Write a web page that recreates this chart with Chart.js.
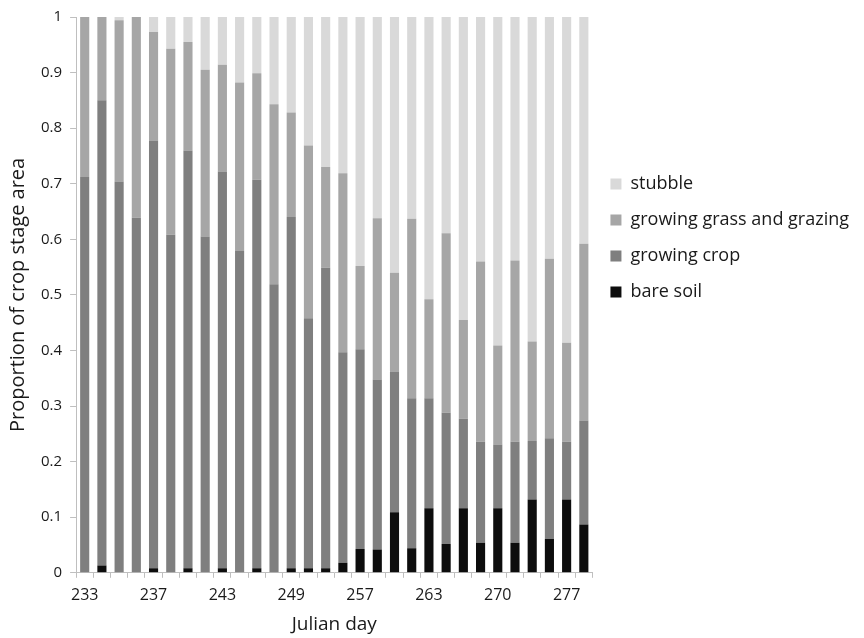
<!DOCTYPE html>
<html lang="en">
<head>
  <meta charset="UTF-8">
  <title>Crop stage proportions</title>
  <script src="https://cdn.jsdelivr.net/npm/chart.js@4"></script>
  <style>
      body { margin: 0; background: #ffffff; }
      #chart-container { width: 864px; height: 638px; }
  </style>
</head>
<body>
  <div id="chart-container">
      <canvas id="cropChart"></canvas>
  </div>

  <script>
      // Julian day labels (only every fourth bar is labelled on the axis)
      var dayLabels = [
        '233', '', '', '', '237', '', '', '', '243', '', '', '', '249', '', '', '',
        '257', '', '', '', '263', '', '', '', '270', '', '', '', '277', ''
      ];

      var bareSoil = [
        0, 0.013, 0, 0, 0.008, 0, 0.008, 0, 0.008, 0, 0.008, 0, 0.008, 0.008, 0.008,
        0.018, 0.043, 0.042, 0.109, 0.044, 0.116, 0.052, 0.116, 0.054, 0.116,
        0.054, 0.132, 0.061, 0.132, 0.087
      ];

      var growingCrop = [
        0.712, 0.837, 0.704, 0.639, 0.770, 0.608, 0.752, 0.605, 0.714, 0.579,
        0.699, 0.519, 0.632, 0.450, 0.541, 0.379, 0.359, 0.306, 0.253, 0.270,
        0.198, 0.236, 0.161, 0.182, 0.115, 0.182, 0.105, 0.181, 0.104, 0.187
      ];

      var grassGrazing = [
        0.288, 0.150, 0.290, 0.361, 0.195, 0.335, 0.195, 0.300, 0.192, 0.303,
        0.192, 0.324, 0.188, 0.311, 0.181, 0.322, 0.150, 0.290, 0.178, 0.323,
        0.178, 0.323, 0.178, 0.324, 0.178, 0.326, 0.179, 0.323, 0.178, 0.318
      ];

      var stubble = [
        0, 0, 0.006, 0, 0.027, 0.057, 0.045, 0.095, 0.086, 0.118,
        0.101, 0.157, 0.172, 0.231, 0.270, 0.281, 0.448, 0.362, 0.460, 0.363,
        0.508, 0.389, 0.545, 0.440, 0.591, 0.438, 0.584, 0.435, 0.586, 0.408
      ];

      var textColor = '#1a1a1a';
      var axisColor = '#bfbfbf';
      var font = "'Open Sans', 'Noto Sans', sans-serif";

      var bar = { barPercentage: 0.53, categoryPercentage: 1.0, borderWidth: 0 };

      var ctx = document.getElementById('cropChart').getContext('2d');
      var cropChart = new Chart(ctx, {
          type: 'bar',
          data: {
              labels: dayLabels,
              datasets: [
                  Object.assign({ label: 'bare soil', data: bareSoil, backgroundColor: '#0d0d0d' }, bar),
                  Object.assign({ label: 'growing crop', data: growingCrop, backgroundColor: '#7f7f7f' }, bar),
                  Object.assign({ label: 'growing grass and grazing', data: grassGrazing, backgroundColor: '#a6a6a6' }, bar),
                  Object.assign({ label: 'stubble', data: stubble, backgroundColor: '#d9d9d9' }, bar)
              ]
          },
          options: {
              responsive: true,
              maintainAspectRatio: false,
              animation: false,
              layout: { padding: { top: 0, right: 5, bottom: 4, left: 6 } },
              scales: {
                  x: {
                      stacked: true,
                      grid: { display: true, drawOnChartArea: false, color: axisColor, tickLength: 5 },
                      border: { color: axisColor },
                      ticks: { color: textColor, autoSkip: false, maxRotation: 0, padding: 8,
                               font: { family: font, size: 16 } },
                      title: { display: true, text: 'Julian day', color: textColor,
                               font: { family: font, size: 19, lineHeight: 1 }, padding: { top: 2, bottom: 0 } }
                  },
                  y: {
                      stacked: true,
                      min: 0,
                      max: 1,
                      grid: { display: true, drawOnChartArea: false, color: axisColor, tickLength: 6 },
                      border: { color: axisColor },
                      ticks: { stepSize: 0.1, color: textColor, padding: 8,
                               font: { family: font, size: 15 },
                               callback: function (v) { return +v.toFixed(1); } },
                      title: { display: true, text: 'Proportion of crop stage area', color: textColor,
                               font: { family: font, size: 20 }, padding: { top: 0, bottom: 3 } }
                  }
              },
              plugins: {
                  legend: {
                      position: 'right',
                      align: 'start',
                      reverse: true,
                      maxWidth: 320,
                      title: { display: true, text: ' ', font: { size: 10 }, padding: { top: 145, bottom: 0 } },
                      labels: { color: textColor, boxWidth: 11, boxHeight: 11, padding: 18,
                                font: { family: font, size: 18 } }
                  },
                  tooltip: { enabled: false }
              }
          }
      });
  </script>
</body>
</html>
